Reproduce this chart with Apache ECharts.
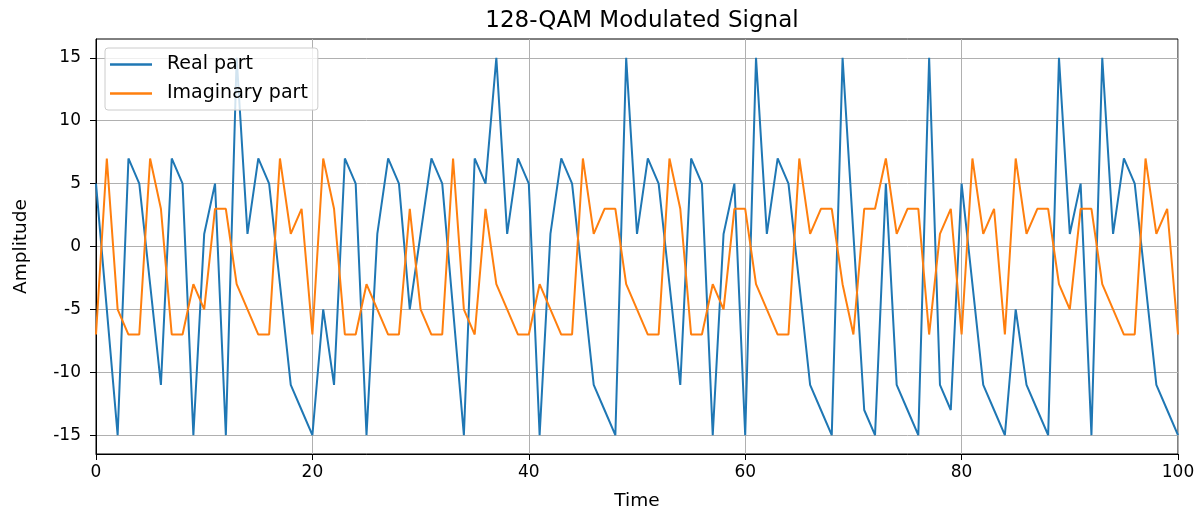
<!DOCTYPE html>
<html>
<head>
<meta charset="utf-8">
<script src="https://cdn.jsdelivr.net/npm/echarts@6/dist/echarts.min.js"></script>
<style>
  html, body { margin: 0; padding: 0; background: #fff; }
  #chart { width: 1201px; height: 516px; }
</style>
</head>
<body>
<div id="chart"></div>
<script>
// sample index 0..100
const timeIdx = Array.from({ length: 101 }, (_, i) => i)
const realPart = [
  5, -5, -15, 7, 5, -3, -11, 7, 5, -15,
  1, 5, -15, 15, 1, 7, 5, -3, -11, -13,
  -15, -5, -11, 7, 5, -15, 1, 7, 5, -5,
  1, 7, 5, -5, -15, 7, 5, 15, 1, 7,
  5, -15, 1, 7, 5, -3, -11, -13, -15, 15,
  1, 7, 5, -3, -11, 7, 5, -15, 1, 5,
  -15, 15, 1, 7, 5, -3, -11, -13, -15, 15,
  1, -13, -15, 5, -11, -13, -15, 15, -11, -13,
  5, -3, -11, -13, -15, -5, -11, -13, -15, 15,
  1, 5, -15, 15, 1, 7, 5, -3, -11, -13,
  -15
]
const imagPart = [
  -7, 7, -5, -7, -7, 7, 3, -7, -7, -3,
  -5, 3, 3, -3, -5, -7, -7, 7, 1, 3,
  -7, 7, 3, -7, -7, -3, -5, -7, -7, 3,
  -5, -7, -7, 7, -5, -7, 3, -3, -5, -7,
  -7, -3, -5, -7, -7, 7, 1, 3, 3, -3,
  -5, -7, -7, 7, 3, -7, -7, -3, -5, 3,
  3, -3, -5, -7, -7, 7, 1, 3, 3, -3,
  -7, 3, 3, 7, 1, 3, 3, -7, 1, 3,
  -7, 7, 1, 3, -7, 7, 1, 3, 3, -3,
  -5, 3, 3, -3, -5, -7, -7, 7, 1, 3,
  -7
]
const yTicks = [-15, -10, -5, 0, 5, 10, 15]

const font = 'DejaVu Sans'
const myChart = echarts.init(document.getElementById('chart'), null, { renderer: 'canvas' })

const option = {
  animation: false,
  backgroundColor: '#fff',
  title: {
    text: '128-QAM Modulated Signal',
    left: 637,
    top: 5,
    textAlign: 'center',
    textStyle: { fontFamily: font, fontSize: 23, fontWeight: 'normal', color: '#000' }
  },
  grid: {
    left: 96,
    right: 23,
    top: 39,
    bottom: 61,
    show: true,
    borderColor: '#000',
    borderWidth: 1
  },
  legend: {
    orient: 'vertical',
    left: 105,
    top: 48,
    padding: [7, 10, 7, 5],
    icon: 'rect',
    itemWidth: 42,
    itemHeight: 2.5,
    itemGap: 10,
    backgroundColor: 'rgba(255,255,255,0.8)',
    borderColor: '#cccccc',
    borderWidth: 1,
    borderRadius: 3,
    textStyle: { fontFamily: font, fontSize: 19, color: '#000', padding: [0, 0, 0, 10] },
    data: ['Real part', 'Imaginary part']
  },
  xAxis: {
    type: 'value',
    min: 0,
    max: 100,
    interval: 20,
    name: 'Time',
    nameLocation: 'middle',
    nameGap: 38,
    nameTextStyle: { fontFamily: font, fontSize: 18.5, color: '#000' },
    axisLine: { show: true, onZero: false, lineStyle: { color: '#000', width: 1 } },
    axisTick: { show: true, length: 6, lineStyle: { color: '#000' } },
    axisLabel: { margin: 10, fontFamily: font, fontSize: 17, color: '#000' },
    splitLine: { show: true, lineStyle: { color: '#b0b0b0', width: 1 } }
  },
  yAxis: {
    type: 'value',
    min: -16.5,
    max: 16.5,
    name: 'Amplitude',
    nameLocation: 'middle',
    nameGap: 65,
    nameTextStyle: { fontFamily: font, fontSize: 18.5, color: '#000' },
    axisLine: { show: true, onZero: false, lineStyle: { color: '#000', width: 1 } },
    axisTick: { show: true, length: 6, customValues: yTicks, lineStyle: { color: '#000' } },
    axisLabel: { margin: 15, customValues: yTicks, fontFamily: font, fontSize: 17, color: '#000' },
    splitLine: { show: true, lineStyle: { color: '#b0b0b0', width: 1 } }
  },
  series: [
    {
      name: 'Real part',
      type: 'line',
      data: timeIdx.map((t, i) => [t, realPart[i]]),
      symbol: 'none',
      color: '#1f77b4',
      lineStyle: { color: '#1f77b4', width: 2 }
    },
    {
      name: 'Imaginary part',
      type: 'line',
      data: timeIdx.map((t, i) => [t, imagPart[i]]),
      symbol: 'none',
      color: '#ff7f0e',
      lineStyle: { color: '#ff7f0e', width: 2 }
    }
  ]
}
myChart.setOption(option)
</script>
</body>
</html>
